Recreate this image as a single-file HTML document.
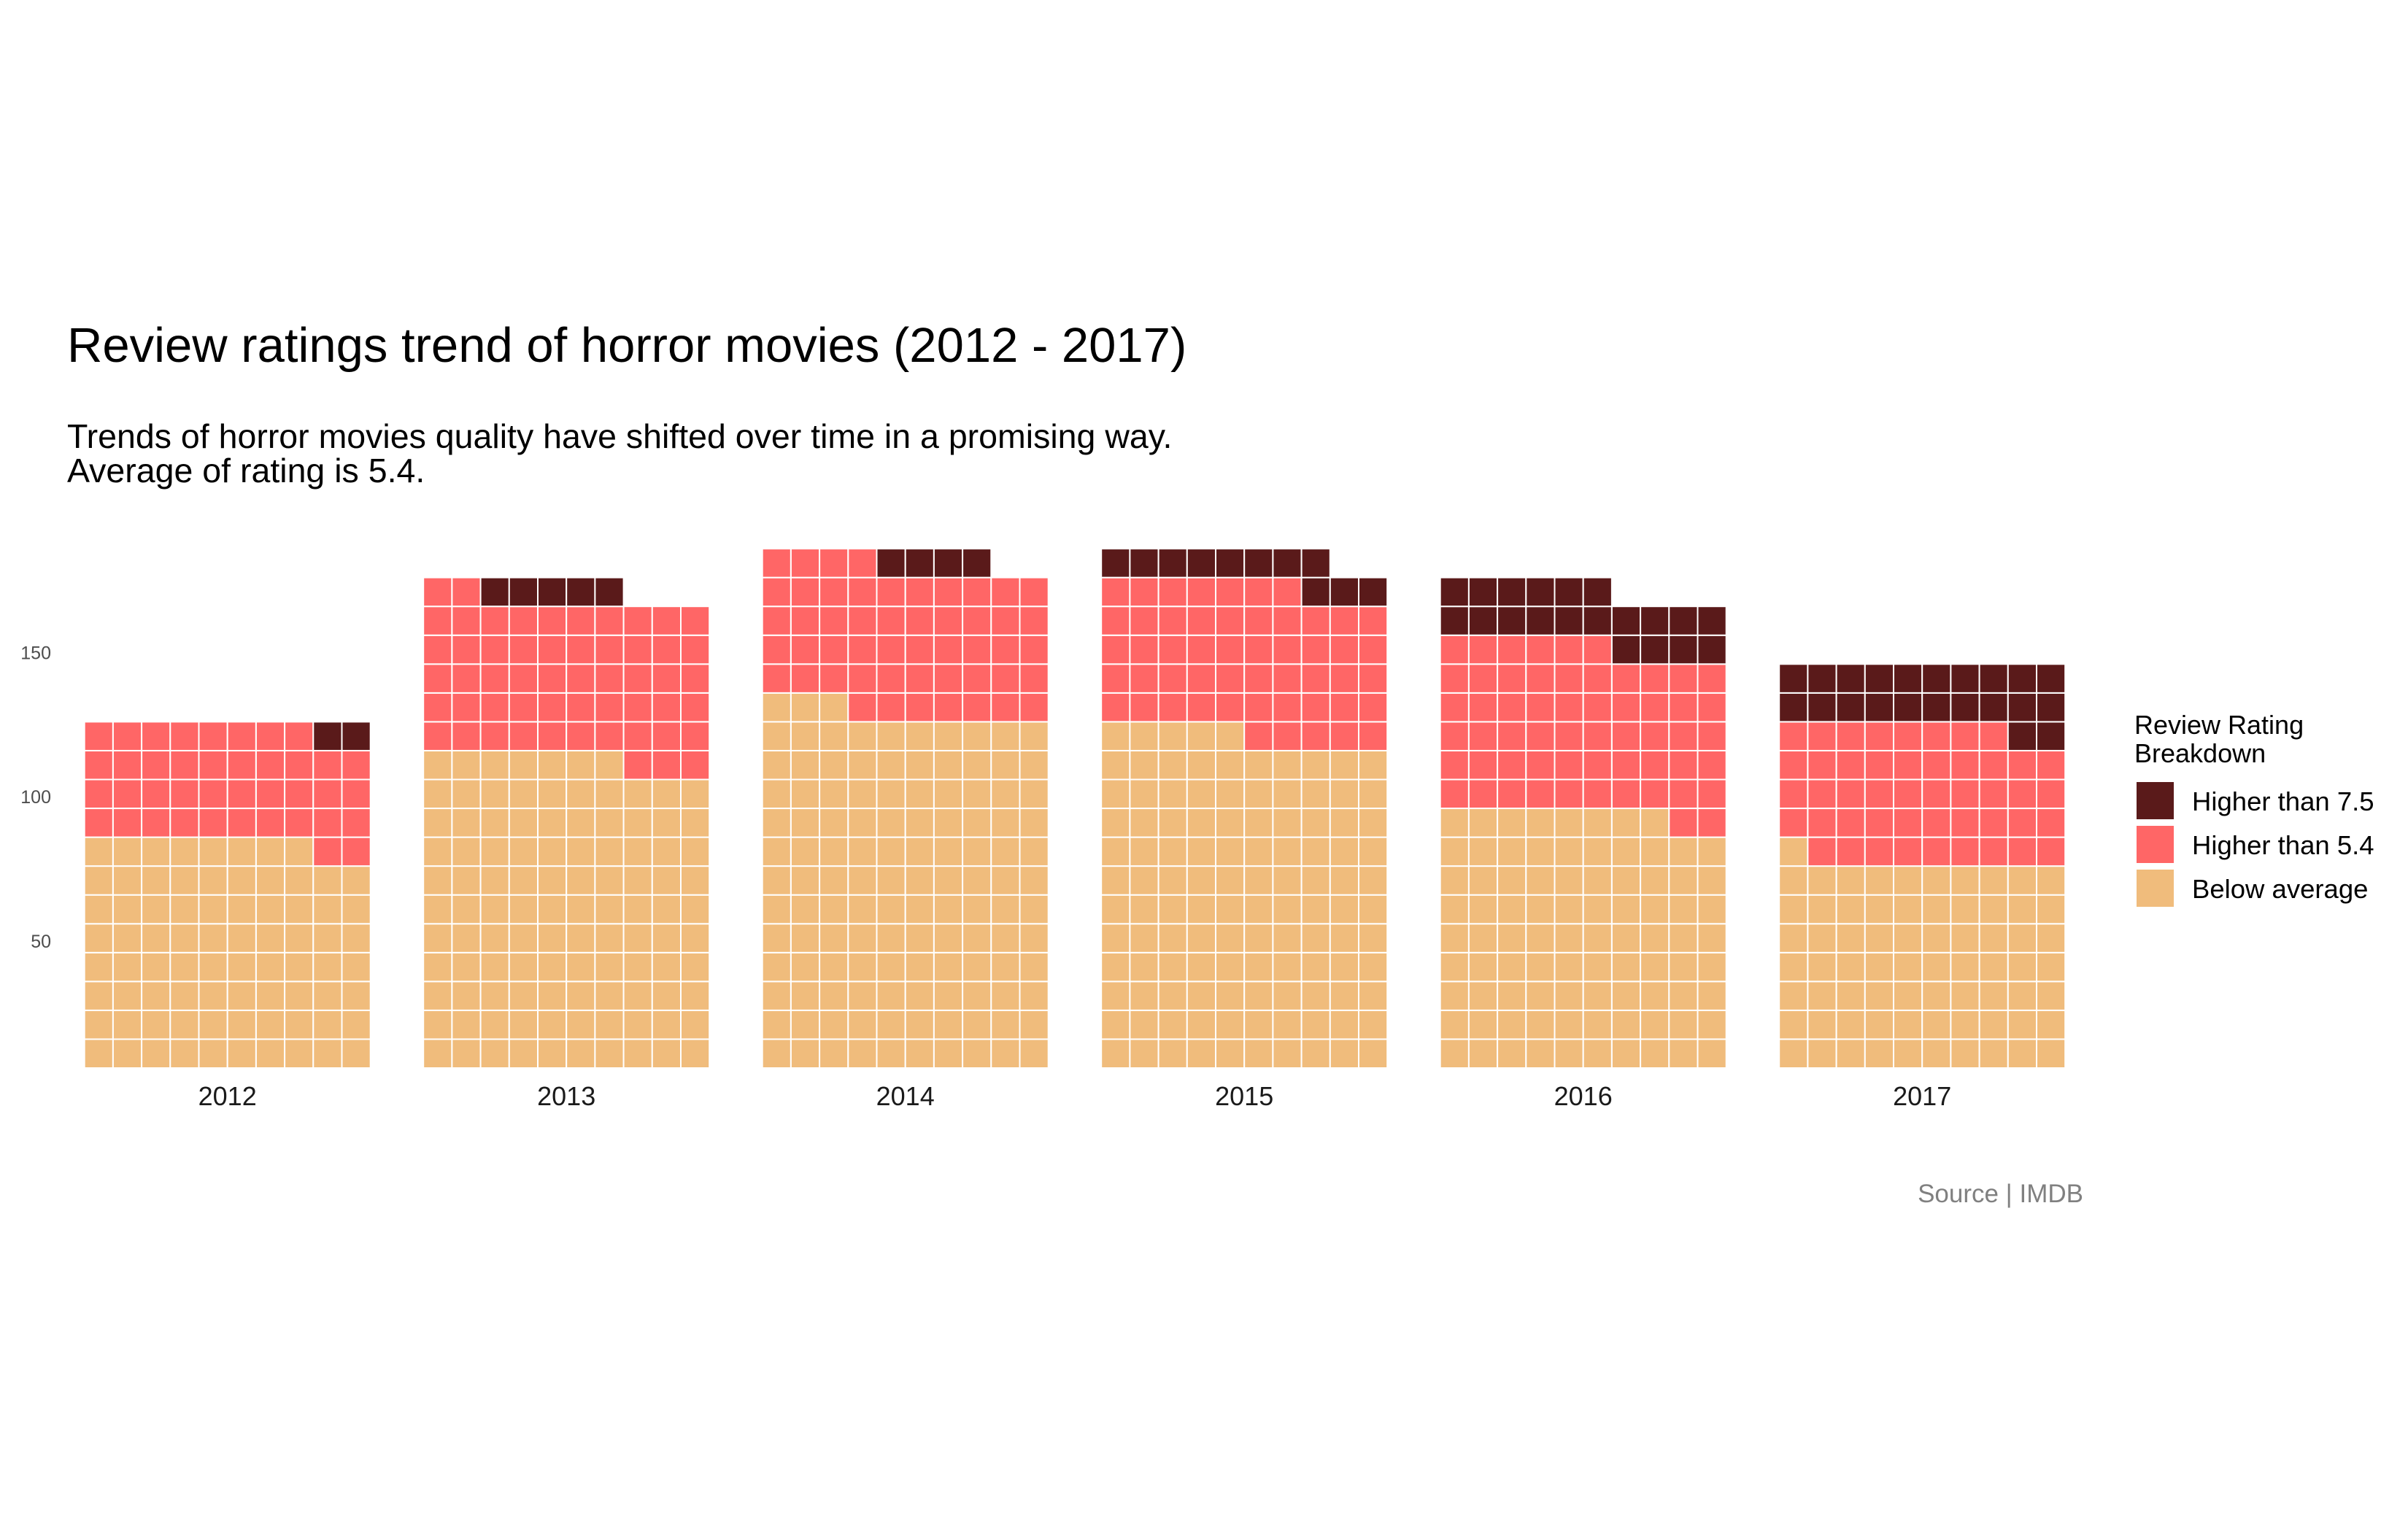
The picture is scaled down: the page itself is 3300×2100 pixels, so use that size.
<!DOCTYPE html>
<html><head><meta charset="utf-8"><style>
html,body{margin:0;padding:0;background:#fff;}
svg{display:block;font-family:"Liberation Sans",Arial,sans-serif;}
</style></head><body>
<svg id="chart" width="3300" height="2100" viewBox="0 0 3300 2100" xmlns="http://www.w3.org/2000/svg">
<rect width="3300" height="2100" fill="#fff"/>
<text x="92" y="496" font-size="67" fill="#000">Review ratings trend of horror movies (2012 - 2017)</text>
<text x="92" y="614" font-size="46.5" fill="#000">Trends of horror movies quality have shifted over time in a promising way.</text>
<text x="92" y="661" font-size="46.5" fill="#000">Average of rating is 5.4.</text>
<g id="cells"></g>
<g id="yaxis"></g>
<g id="xaxis"></g>
<g>
<text x="2925" y="1006" font-size="36" fill="#000">Review Rating</text>
<text x="2925" y="1045" font-size="36" fill="#000">Breakdown</text>
<rect x="2928" y="1072" width="51" height="51" fill="#5a1a1a"/>
<text x="3004" y="1111" font-size="36.5" fill="#000">Higher than 7.5</text>
<rect x="2928" y="1132" width="51" height="51" fill="#ff6666"/>
<text x="3004" y="1171" font-size="36.5" fill="#000">Higher than 5.4</text>
<rect x="2928" y="1192" width="51" height="51" fill="#f0bc7c"/>
<text x="3004" y="1231" font-size="36.5" fill="#000">Below average</text>
</g>
<text x="2855" y="1648" font-size="35" fill="#808080" text-anchor="end">Source | IMDB</text>
</svg>
<script>
const years = ["2012","2013","2014","2015","2016","2017"];
const belowAverage = [78,107,123,115,88,71];
const higherThan54 = [40,55,51,52,58,47];
const higherThan75 = [2,5,4,11,20,22];
const yTicks = [50,100,150];

const colors = ["#f0bc7c","#ff6666","#5a1a1a"];
const catNames = ["below-average","higher-than-5-4","higher-than-7-5"];
const NS = "http://www.w3.org/2000/svg";
const x0 = 115.7, step = 464.5, cellW = 39.2, rowH = 39.55, bottom = 1464, perRow = 10;
function xCol(yearIdx, col){ return x0 + yearIdx*step + col*cellW; }
function yRow(row){ return bottom - (row+1)*rowH; }
function yVal(v){ return bottom - (v - 6.5)/10*rowH; }

const cellsG = document.getElementById('cells');
years.forEach((yr, i) => {
  const counts = [belowAverage[i], higherThan54[i], higherThan75[i]];
  let k = 0;
  counts.forEach((n, c) => {
    for (let j = 0; j < n; j++) {
      const r = document.createElementNS(NS, 'rect');
      r.setAttribute('x', xCol(i, k % perRow));
      r.setAttribute('y', yRow(Math.floor(k / perRow)));
      r.setAttribute('width', cellW);
      r.setAttribute('height', rowH);
      r.setAttribute('fill', colors[c]);
      r.setAttribute('stroke', '#ffffff');
      r.setAttribute('stroke-width', '2');
      
      
      cellsG.appendChild(r);
      k++;
    }
  });
  const t = document.createElementNS(NS, 'text');
  t.setAttribute('x', xCol(i, 0) + cellW*perRow/2);
  t.setAttribute('y', 1515);
  t.setAttribute('font-size', '36');
  t.setAttribute('fill', '#1a1a1a');
  t.setAttribute('text-anchor', 'middle');
  t.textContent = yr;
  
  
  document.getElementById('xaxis').appendChild(t);
});
yTicks.forEach(v => {
  const t = document.createElementNS(NS, 'text');
  t.setAttribute('x', 70);
  t.setAttribute('y', yVal(v) + 7);
  t.setAttribute('font-size', '25');
  t.setAttribute('fill', '#4d4d4d');
  t.setAttribute('text-anchor', 'end');
  t.textContent = v;
  
  
  document.getElementById('yaxis').appendChild(t);
});
</script>
</body></html>
